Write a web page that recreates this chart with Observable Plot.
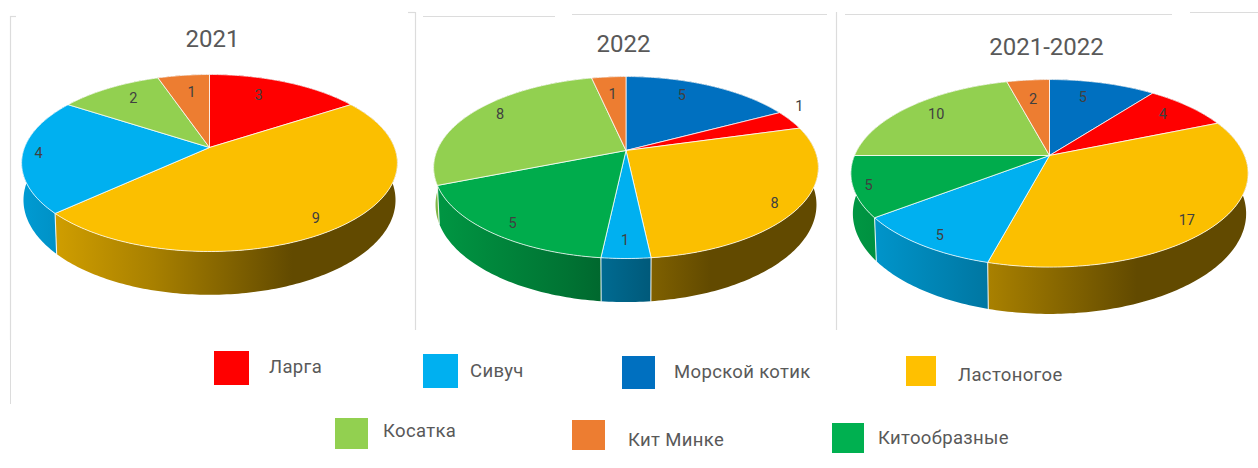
<!DOCTYPE html>
<html><head><meta charset="utf-8">
<script src="https://cdn.jsdelivr.net/npm/d3@7"></script>
<script src="https://cdn.jsdelivr.net/npm/@observablehq/plot@0.6"></script>
<style>
html,body{margin:0;padding:0;background:#fff;overflow:hidden}
#chart svg{display:block}
#legend{position:relative;width:1258px;height:128px;font-family:Roboto,sans-serif;color:#595959}
#legend div{position:absolute}
</style></head><body>
<div id="chart"></div>
<div id="legend"></div>
<script>
const categories = ["Ларга","Сивуч","Морской котик","Ластоногое","Косатка","Кит Минке","Китообразные"];
const colors = ["#ff0000","#00b0f0","#0070c0","#fbbf00","#92d050","#ed7d31","#00ac4c"];
const legendColors = ["#ff0000","#00b0f0","#0070c0","#ffc000","#92d050","#ed7d31","#00b050"];
const titles = ["2021","2022","2021-2022"];
const order2021 = ["Ларга","Ластоногое","Сивуч","Косатка","Кит Минке"];
const values2021 = [3,9,4,2,1];
const order2022 = ["Морской котик","Ларга","Ластоногое","Сивуч","Китообразные","Косатка","Кит Минке"];
const values2022 = [5,1,8,1,5,8,1];
const valuesAll = [5,4,17,5,5,10,2];

// layout of the three tilted discs (perspective model of a circle)
const W = 1258, H = 340;
const pies = [
  {title:titles[0],order:order2021,values:values2021,cx:209,cy:147,k:185,q:85.8,p:.175,d:36,tx:212,ty:39,
   lr:[.72,.87,.92,.76,.74],nudge:[[-8,-3],[-6,4],[1,-1],[2,-3],[2,0]]},
  {title:titles[1],order:order2022,values:values2022,cx:625.5,cy:150,k:189,q:87.8,p:.187,d:36,tx:623,ty:44,
   lr:[.72,1.08,.88,.86,.87,.8,.75],nudge:[[-7,-7],[-3,-11],[-3,5],[-1,0],[1,3],[-1,-5],[0,1]]},
  {title:titles[2],order:order2022,values:valuesAll,cx:1049,cy:155,k:195,q:90.4,p:.19,d:39,tx:1046,ty:47,
   lr:[.73,.8,.86,.88,.92,.8,.73],nudge:[[-7,-3],[0,-1],[-4,7],[1,3],[-1,2],[0,-1],[0,1]]}
];
const project = (pie,th,r=1) => {
  const X=r*Math.sin(th), Z=r*Math.cos(th), den=1+pie.p*Z;
  return [pie.k*X/den, -pie.q*Z/den];
};
const colorOf = c => colors[categories.indexOf(c)];

const sideRows=[], edgeRows=[], topRows=[], labelRows=[], gradients=[];
pies.forEach((pie,pi)=>{
  const total=d3.sum(pie.values);
  let acc=0;
  const R=pie.k/Math.sqrt(1-pie.p*pie.p);
  pie.values.forEach((v,i)=>{
    const a0=acc/total*2*Math.PI, a1=(acc+v)/total*2*Math.PI; acc+=v;
    const id=`p${pi}s${i}`, base=colorOf(pie.order[i]);
    const n=Math.max(2,Math.ceil((a1-a0)/(Math.PI/180)));
    const arc=d3.range(n+1).map(j=>project(pie,a0+(a1-a0)*j/n));
    const low=([sx,sy])=>[pie.cx+sx*.99,pie.cy+sy*1.07+pie.d];
    const top=([sx,sy])=>[pie.cx+sx,pie.cy+sy];
    gradients.push({id:"g"+id,x1:pie.cx-R,x2:pie.cx+R,base});
    const side=[...arc.map(top),...arc.slice().reverse().map(low)];
    side.push(side[0]);
    side.forEach(([x,y])=>sideRows.push({id,x,y,paint:`url(#g${id})`}));
    const e=arc[0];
    edgeRows.push({id:id+"a",x:top(e)[0],y:top(e)[1]},{id:id+"a",x:low(e)[0],y:low(e)[1]});
    const face=[[pie.cx,pie.cy],...arc.map(top),[pie.cx,pie.cy]];
    face.forEach(([x,y])=>topRows.push({id,x,y,paint:base}));
    const [lx,ly]=project(pie,(a0+a1)/2,pie.lr[i]);
    labelRows.push({x:pie.cx+lx+pie.nudge[i][0],y:pie.cy+ly+pie.nudge[i][1],text:String(v)});
  });
});

const defsMark = () => {
  const defs=d3.create("svg:defs");
  const stops=[[0,.88],[.35,.67],[.72,.39],[1,.39]];
  gradients.forEach(g=>{
    const lg=defs.append("linearGradient").attr("id",g.id).attr("gradientUnits","userSpaceOnUse")
      .attr("x1",g.x1).attr("x2",g.x2).attr("y1",0).attr("y2",0);
    stops.forEach(([o,f])=>{
      const c=d3.rgb(g.base);
      lg.append("stop").attr("offset",o).attr("stop-color",d3.rgb(c.r*f,c.g*f,c.b*f).formatHex());
    });
  });
  return defs.node();
};

const frameV=[{x:10,y1:16,y2:340},{x:415,y1:12,y2:330},{x:836,y1:12,y2:330}];
const frameH=[{y:16,x1:10,x2:16},{y:12,x1:408,x2:415},{y:16,x1:423,x2:555},{y:14,x1:572,x2:827},{y:14,x1:845,x2:1172},{y:12,x1:1190,x2:1258}];

const plot = Plot.plot({
  width:W,height:H,margin:0,
  style:{background:"#fff",overflow:"visible"},
  x:{domain:[0,W],range:[0,W],axis:null},
  y:{domain:[0,H],range:[0,H],axis:null},
  color:{type:"identity"},
  marks:[
    defsMark,
    Plot.ruleX(frameV,{x:"x",y1:"y1",y2:"y2",stroke:"#dcdcdc",strokeWidth:1.2}),
    Plot.ruleY(frameH,{y:"y",x1:"x1",x2:"x2",stroke:"#dcdcdc",strokeWidth:1.2}),
    Plot.line(sideRows,{x:"x",y:"y",z:"id",fill:"paint",stroke:"none"}),
    Plot.line(edgeRows,{x:"x",y:"y",z:"id",stroke:"#fff",strokeWidth:1.1,strokeOpacity:.85}),
    Plot.line(topRows,{x:"x",y:"y",z:"id",fill:"paint",stroke:"#fff",strokeWidth:.9,strokeOpacity:.85}),
    Plot.text(labelRows,{x:"x",y:"y",text:"text",fontFamily:"Roboto",fontSize:14.5,fill:"#404040"}),
    Plot.text(pies,{x:"tx",y:"ty",text:"title",fontFamily:"Roboto",fontSize:24,fill:"#595959"})
  ]
});
document.getElementById("chart").append(plot);

// legend
const legendBoxes=[
  {c:"Ларга",x:214,y:351,w:35,h:34,tx:269,ty:367},
  {c:"Сивуч",x:423,y:354,w:35,h:34,tx:470,ty:371},
  {c:"Морской котик",x:622,y:356,w:33,h:33,tx:674,ty:372},
  {c:"Ластоногое",x:906,y:356,w:30,h:30,tx:958,ty:375},
  {c:"Косатка",x:335,y:418,w:33,h:31,tx:383,ty:431},
  {c:"Кит Минке",x:572,y:420,w:33,h:30,tx:628,ty:440},
  {c:"Китообразные",x:832,y:423,w:32,h:30,tx:878,ty:438}
];
const lg=d3.select("#legend");
lg.append("div").style("left","9.5px").style("top","0").style("width","1.2px").style("height",(404-H)+"px").style("background","#dcdcdc");
legendBoxes.forEach(b=>{
  lg.append("div").style("left",b.x+"px").style("top",(b.y-H)+"px").style("width",b.w+"px").style("height",b.h+"px")
    .style("background",legendColors[categories.indexOf(b.c)]);
  lg.append("div").style("left",b.tx+"px").style("top",(b.ty-H-12)+"px").style("line-height","24px")
    .style("font-size","18.5px").style("letter-spacing",".35px").style("white-space","nowrap").text(b.c);
});
</script></body></html>
